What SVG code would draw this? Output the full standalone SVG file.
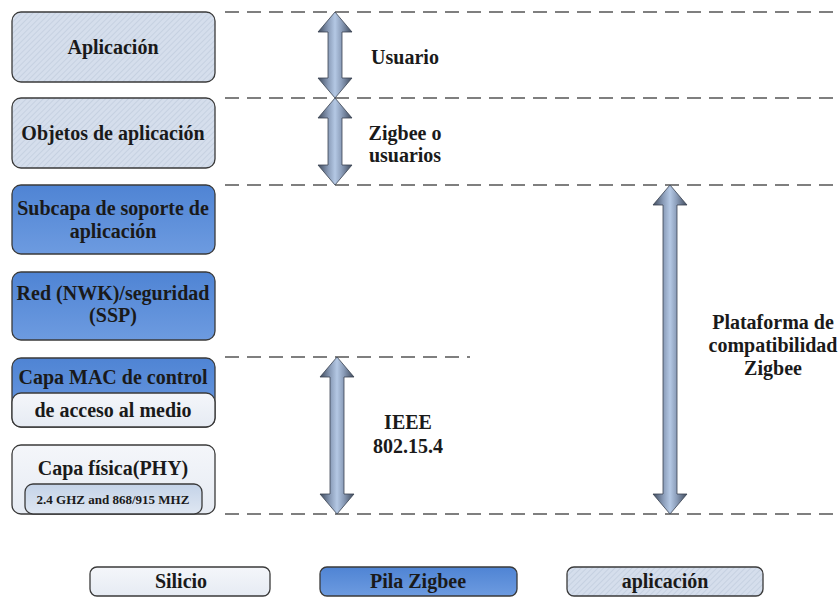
<svg xmlns="http://www.w3.org/2000/svg" width="840" height="597" viewBox="0 0 840 597">
<defs>
<pattern id="hatch" width="4" height="4" patternUnits="userSpaceOnUse" patternTransform="rotate(45)">
<rect width="4" height="4" fill="#d5deec"/>
<line x1="0" y1="0" x2="0" y2="4" stroke="#bcc8da" stroke-width="1.2"/>
</pattern>
<linearGradient id="blue" x1="0" y1="0" x2="0" y2="1">
<stop offset="0" stop-color="#4f84d4"/>
<stop offset="1" stop-color="#6d9be0"/>
</linearGradient>
<linearGradient id="light" x1="0" y1="0" x2="0" y2="1">
<stop offset="0" stop-color="#f4f6fa"/>
<stop offset="1" stop-color="#e6ebf3"/>
</linearGradient>
<linearGradient id="inner" x1="0" y1="0" x2="0" y2="1">
<stop offset="0" stop-color="#c4d3e8"/>
<stop offset="1" stop-color="#dfe7f2"/>
</linearGradient>
<linearGradient id="arr" x1="0" y1="0" x2="1" y2="0">
<stop offset="0" stop-color="#3f4a5c"/>
<stop offset="0.3" stop-color="#8a9cb8"/>
<stop offset="0.5" stop-color="#b4c8e4"/>
<stop offset="0.7" stop-color="#8a9cb8"/>
<stop offset="1" stop-color="#3f4a5c"/>
</linearGradient>
</defs>
<style>
.box{stroke:#3a3a3a;stroke-width:1.3}
.app{fill:url(#hatch)}
.zb{fill:url(#blue)}
.si{fill:url(#light)}
.t{font-family:"Liberation Serif","DejaVu Serif",serif;font-weight:bold;font-size:20px;fill:#1a1a1a;text-anchor:middle}
.s{font-size:13px}
.dash{stroke:#555;stroke-width:1.5;stroke-dasharray:14 8;fill:none}
.arrow{fill:url(#arr);stroke:#3a4250;stroke-width:0.8}
</style>
<g id="connectors">
<line class="dash" x1="225" y1="12" x2="840" y2="12"/>
<line class="dash" x1="225" y1="98" x2="840" y2="98"/>
<line class="dash" x1="225" y1="185" x2="840" y2="185"/>
<line class="dash" x1="225" y1="357" x2="470" y2="357"/>
<line class="dash" x1="225" y1="514" x2="840" y2="514"/>
<path class="arrow" d="M335,12 L352,32 L342,32 L342,78 L352,78 L335,98 L318,78 L328,78 L328,32 L318,32 Z"/>
<path class="arrow" d="M335,98 L352,118 L342,118 L342,165 L352,165 L335,185 L318,165 L328,165 L328,118 L318,118 Z"/>
<path class="arrow" d="M337,357 L354,377 L344,377 L344,494 L354,494 L337,514 L320,494 L330,494 L330,377 L320,377 Z"/>
<path class="arrow" d="M670,185 L687,205 L677,205 L677,494 L687,494 L670,514 L653,494 L663,494 L663,205 L653,205 Z"/>
</g>
<g id="lbl-usuario"><text class="t" x="405" y="64">Usuario</text></g>
<g id="lbl-zigbee"><text class="t" x="405" y="140">Zigbee o</text><text class="t" x="405" y="162">usuarios</text></g>
<g id="lbl-ieee"><text class="t" x="408" y="429">IEEE</text><text class="t" x="408" y="453">802.15.4</text></g>
<g id="lbl-plataforma"><text class="t" x="773" y="329">Plataforma de</text><text class="t" x="773" y="352">compatibilidad</text><text class="t" x="773" y="375">Zigbee</text></g>
<g id="aplicacion"><rect class="box app" x="12" y="12" width="203" height="70" rx="9"/><text class="t" x="113" y="54">Aplicación</text></g>
<g id="objetos"><rect class="box app" x="12" y="98" width="203" height="70" rx="9"/><text class="t" x="113" y="140">Objetos de aplicación</text></g>
<g id="subcapa"><rect class="box zb" x="12" y="185" width="203" height="69" rx="9"/><text class="t" x="113" y="215">Subcapa de soporte de</text><text class="t" x="113" y="238">aplicación</text></g>
<g id="red"><rect class="box zb" x="12" y="272" width="203" height="68" rx="9"/><text class="t" x="113" y="300">Red (NWK)/seguridad</text><text class="t" x="113" y="322">(SSP)</text></g>
<g id="mac"><rect class="box zb" x="12" y="358" width="203" height="69" rx="9"/><rect class="box si" x="12" y="393" width="203" height="34" rx="9"/><text class="t" x="113" y="384">Capa MAC de control</text><text class="t" x="113" y="417">de acceso al medio</text></g>
<g id="phy"><rect class="box si" x="12" y="445" width="203" height="69" rx="9"/><text class="t" x="113" y="475">Capa física(PHY)</text><rect class="box" fill="url(#inner)" x="25" y="484" width="177" height="30" rx="8"/><text class="t s" x="113" y="504">2.4 GHZ and 868/915 MHZ</text></g>
<g id="leg-silicio"><rect class="box si" x="90" y="567" width="180" height="29" rx="7"/><text class="t" x="181" y="588">Silicio</text></g>
<g id="leg-pila"><rect class="box zb" x="320" y="567" width="197" height="29" rx="7"/><text class="t" x="418" y="588">Pila Zigbee</text></g>
<g id="leg-app"><rect class="box app" x="567" y="567" width="196" height="29" rx="7"/><text class="t" x="665" y="588">aplicación</text></g>
</svg>
